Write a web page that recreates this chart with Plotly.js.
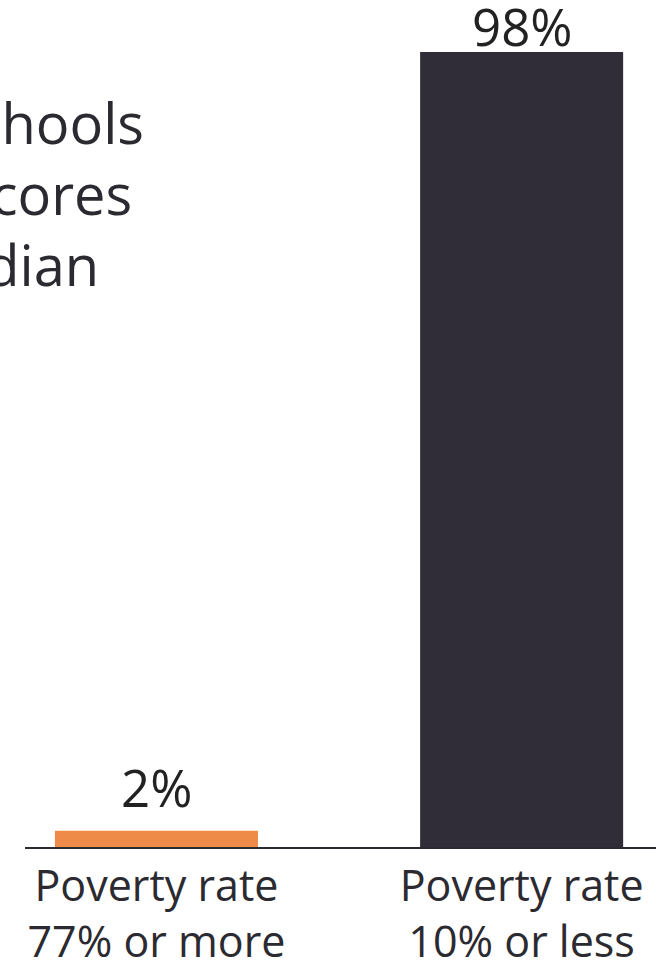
<!DOCTYPE html>
<html>
<head>
<meta charset="utf-8">
<script src="https://cdn.plot.ly/plotly-3.0.1.min.js"></script>
<style>html,body{margin:0;padding:0;background:#fff;overflow:hidden}#chart{width:656px;height:968px}</style>
</head>
<body>
<div id="chart"></div>
<script>
const categories = ["Poverty rate<br>77% or more", "Poverty rate<br>10% or less"];
const values = [2, 98];
const valueLabels = ["2%", "98%"];
const barColors = ["#ef8b48", "#302d38"];
const titleLines = ["schools", "scores", "median"];

const FONT = "Open Sans, Noto Sans, sans-serif";
const TXT = "#2c2a31";

// layout constants (not data)
const titleX = [0.1918, 0.1727, 0.1204];
const titleY = [0.912, 0.823, 0.733];
const labelShift = [7, -11];

const annotations = titleLines.map((t, i) => ({
  text: t, xref: "paper", yref: "paper", x: titleX[i], y: titleY[i],
  xanchor: "right", yanchor: "middle", showarrow: false,
  font: {family: FONT, size: 56, color: TXT}
})).concat(values.map((v, i) => ({
  text: valueLabels[i], xref: "x", yref: "y", x: categories[i], y: v,
  xanchor: "center", yanchor: "bottom", yshift: labelShift[i], showarrow: false,
  font: {family: FONT, size: 51, color: "#222"}
})));

Plotly.newPlot("chart", [{
  type: "bar",
  x: categories,
  y: values,
  width: 0.556,
  marker: {color: barColors},
  hoverinfo: "skip"
}], {
  width: 656, height: 968,
  margin: {l: 25, r: 0, t: 52, b: 121, pad: 0},
  paper_bgcolor: "#fff", plot_bgcolor: "#fff",
  showlegend: false,
  font: {family: FONT, color: TXT},
  xaxis: {
    type: "category", range: [-0.36, 1.368],
    showline: true, linecolor: "#2c2a31", linewidth: 2,
    ticks: "", showgrid: false, zeroline: false,
    tickfont: {family: FONT, size: 43, color: TXT},
    fixedrange: true
  },
  yaxis: {
    range: [0, 98], visible: false, showgrid: false, zeroline: false, fixedrange: true
  },
  annotations: annotations
}, {displayModeBar: false, staticPlot: true});
</script>
</body>
</html>
